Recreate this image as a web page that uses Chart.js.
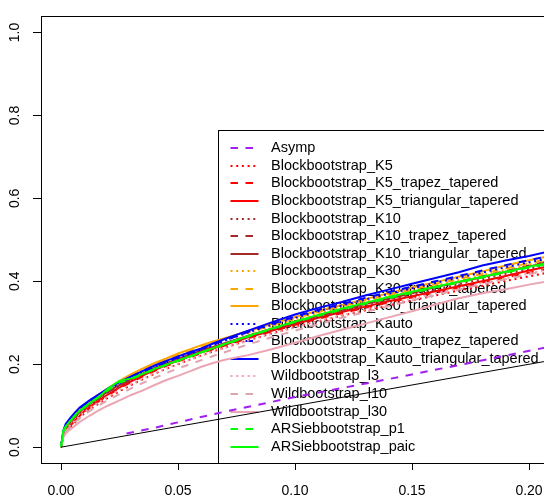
<!DOCTYPE html>
<html>
<head>
<meta charset="utf-8">
<script src="https://cdn.jsdelivr.net/npm/chart.js@4.4.1/dist/chart.umd.min.js"></script>
<style>
  html, body { margin: 0; padding: 0; overflow: hidden; background: #fff; }
  #wrap { width: 580px; height: 500px; }
</style>
</head>
<body>
<div id="wrap"><canvas id="chart" width="580" height="500"></canvas></div>
<script>
//DATA
const xGrid = [0, 0.001, 0.002, 0.004, 0.006, 0.008, 0.01, 0.0125, 0.015, 0.0175, 0.02, 0.025, 0.03, 0.035, 0.04, 0.045, 0.05, 0.055, 0.06, 0.065, 0.07, 0.08, 0.09, 0.1, 0.11, 0.12, 0.13, 0.14, 0.15, 0.16, 0.17, 0.18, 0.19, 0.2, 0.21, 0.22];

const asympX = [0.028, 0.04, 0.067, 0.1, 0.138, 0.17, 0.206, 0.22];
const asympY = [0.033, 0.047, 0.082, 0.121, 0.162, 0.198, 0.239, 0.255];

const k5 = [0, 0.026, 0.035, 0.048, 0.060, 0.071, 0.082, 0.092, 0.101, 0.110, 0.119, 0.135, 0.150, 0.164, 0.177, 0.189, 0.200, 0.211, 0.221, 0.231, 0.240, 0.258, 0.274, 0.290, 0.304, 0.317, 0.330, 0.342, 0.354, 0.366, 0.378, 0.389, 0.401, 0.412, 0.423, 0.434];
const k5Trapez = [0, 0.027, 0.037, 0.050, 0.062, 0.074, 0.085, 0.096, 0.106, 0.116, 0.125, 0.142, 0.157, 0.171, 0.184, 0.196, 0.207, 0.217, 0.227, 0.236, 0.245, 0.263, 0.279, 0.295, 0.310, 0.323, 0.336, 0.349, 0.361, 0.373, 0.385, 0.397, 0.409, 0.421, 0.432, 0.443];
const k5Tri = [0, 0.028, 0.038, 0.052, 0.064, 0.076, 0.087, 0.098, 0.108, 0.118, 0.127, 0.144, 0.159, 0.173, 0.186, 0.198, 0.209, 0.219, 0.229, 0.238, 0.247, 0.265, 0.281, 0.297, 0.312, 0.326, 0.339, 0.352, 0.364, 0.376, 0.388, 0.400, 0.413, 0.426, 0.438, 0.449];
const k10 = [0, 0.032, 0.044, 0.058, 0.071, 0.082, 0.092, 0.102, 0.112, 0.121, 0.130, 0.146, 0.161, 0.174, 0.187, 0.198, 0.209, 0.219, 0.229, 0.238, 0.247, 0.265, 0.282, 0.298, 0.313, 0.327, 0.341, 0.354, 0.367, 0.380, 0.393, 0.405, 0.418, 0.430, 0.442, 0.453];
const k10Trapez = [0, 0.033, 0.045, 0.059, 0.072, 0.084, 0.094, 0.104, 0.114, 0.124, 0.133, 0.149, 0.164, 0.177, 0.190, 0.201, 0.212, 0.222, 0.232, 0.241, 0.250, 0.268, 0.285, 0.302, 0.318, 0.333, 0.347, 0.360, 0.373, 0.386, 0.399, 0.412, 0.425, 0.438, 0.450, 0.461];
const k10Tri = [0, 0.034, 0.046, 0.060, 0.073, 0.085, 0.095, 0.105, 0.115, 0.125, 0.134, 0.150, 0.165, 0.178, 0.191, 0.202, 0.213, 0.223, 0.233, 0.242, 0.251, 0.269, 0.286, 0.302, 0.317, 0.331, 0.345, 0.358, 0.371, 0.386, 0.398, 0.410, 0.423, 0.436, 0.448, 0.459];
const k30 = [0, 0.034, 0.047, 0.062, 0.076, 0.088, 0.097, 0.108, 0.118, 0.127, 0.137, 0.154, 0.170, 0.184, 0.197, 0.208, 0.219, 0.229, 0.239, 0.249, 0.258, 0.275, 0.292, 0.308, 0.323, 0.337, 0.351, 0.364, 0.377, 0.390, 0.403, 0.415, 0.428, 0.441, 0.453, 0.464];
const k30Trapez = [0, 0.035, 0.049, 0.064, 0.078, 0.090, 0.099, 0.110, 0.120, 0.130, 0.140, 0.157, 0.173, 0.187, 0.200, 0.211, 0.222, 0.232, 0.242, 0.251, 0.260, 0.277, 0.294, 0.311, 0.326, 0.340, 0.354, 0.367, 0.380, 0.393, 0.406, 0.418, 0.431, 0.444, 0.456, 0.467];
const k30Tri = [0, 0.036, 0.050, 0.066, 0.080, 0.092, 0.101, 0.112, 0.122, 0.132, 0.142, 0.160, 0.176, 0.190, 0.203, 0.214, 0.226, 0.236, 0.246, 0.255, 0.263, 0.280, 0.297, 0.314, 0.329, 0.343, 0.357, 0.371, 0.385, 0.398, 0.411, 0.424, 0.438, 0.451, 0.462, 0.473];
const kauto = [0, 0.036, 0.050, 0.066, 0.079, 0.091, 0.100, 0.110, 0.119, 0.128, 0.137, 0.154, 0.168, 0.181, 0.194, 0.205, 0.215, 0.225, 0.236, 0.246, 0.257, 0.277, 0.295, 0.312, 0.328, 0.342, 0.356, 0.370, 0.383, 0.396, 0.409, 0.421, 0.434, 0.446, 0.457, 0.468];
const kautoTrapez = [0, 0.038, 0.052, 0.068, 0.081, 0.093, 0.102, 0.112, 0.121, 0.130, 0.139, 0.156, 0.170, 0.182, 0.195, 0.206, 0.217, 0.227, 0.237, 0.248, 0.258, 0.278, 0.297, 0.315, 0.331, 0.345, 0.360, 0.374, 0.387, 0.400, 0.413, 0.426, 0.439, 0.451, 0.463, 0.474];
const kautoTri = [0, 0.040, 0.056, 0.071, 0.084, 0.096, 0.104, 0.114, 0.123, 0.132, 0.141, 0.157, 0.171, 0.184, 0.197, 0.208, 0.219, 0.229, 0.238, 0.250, 0.261, 0.281, 0.301, 0.320, 0.336, 0.350, 0.366, 0.380, 0.394, 0.408, 0.422, 0.438, 0.450, 0.461, 0.474, 0.485];
const wildL3 = [0, 0.030, 0.040, 0.053, 0.064, 0.075, 0.085, 0.095, 0.104, 0.113, 0.122, 0.138, 0.152, 0.165, 0.178, 0.190, 0.201, 0.211, 0.221, 0.230, 0.239, 0.257, 0.273, 0.289, 0.304, 0.318, 0.332, 0.345, 0.358, 0.371, 0.383, 0.395, 0.407, 0.419, 0.431, 0.442];
const wildL10 = [0, 0.028, 0.038, 0.050, 0.060, 0.070, 0.079, 0.088, 0.097, 0.105, 0.113, 0.128, 0.142, 0.155, 0.167, 0.179, 0.190, 0.200, 0.210, 0.220, 0.229, 0.248, 0.265, 0.281, 0.297, 0.312, 0.326, 0.340, 0.354, 0.367, 0.380, 0.393, 0.405, 0.417, 0.428, 0.439];
const wildL30 = [0, 0.025, 0.033, 0.043, 0.052, 0.061, 0.068, 0.077, 0.085, 0.093, 0.100, 0.113, 0.126, 0.137, 0.150, 0.162, 0.172, 0.183, 0.194, 0.203, 0.211, 0.222, 0.236, 0.252, 0.268, 0.283, 0.298, 0.313, 0.328, 0.344, 0.359, 0.371, 0.381, 0.392, 0.402, 0.412];
const arP1 = [0, 0.038, 0.049, 0.063, 0.076, 0.087, 0.096, 0.106, 0.116, 0.126, 0.137, 0.156, 0.164, 0.176, 0.188, 0.198, 0.208, 0.218, 0.228, 0.238, 0.248, 0.267, 0.285, 0.302, 0.317, 0.332, 0.346, 0.359, 0.372, 0.385, 0.397, 0.409, 0.421, 0.433, 0.444, 0.455];
const arPaic = [0, 0.040, 0.050, 0.064, 0.077, 0.088, 0.097, 0.107, 0.117, 0.128, 0.141, 0.160, 0.166, 0.177, 0.189, 0.199, 0.209, 0.219, 0.229, 0.239, 0.249, 0.268, 0.286, 0.303, 0.319, 0.334, 0.348, 0.362, 0.375, 0.387, 0.399, 0.411, 0.423, 0.435, 0.446, 0.457];

// 45 degree reference line
const diagX = [0, 0.25];
const diagY = [0, 0.25];

const xTicks = [0, 0.05, 0.1, 0.15, 0.2];
const xTickLabels = ["0.00", "0.05", "0.10", "0.15", "0.20"];
const yTicks = [0, 0.2, 0.4, 0.6, 0.8, 1.0];
const yTickLabels = ["0.0", "0.2", "0.4", "0.6", "0.8", "1.0"];

const seriesNames = [
  "Asymp",
  "Blockbootstrap_K5", "Blockbootstrap_K5_trapez_tapered", "Blockbootstrap_K5_triangular_tapered",
  "Blockbootstrap_K10", "Blockbootstrap_K10_trapez_tapered", "Blockbootstrap_K10_triangular_tapered",
  "Blockbootstrap_K30", "Blockbootstrap_K30_trapez_tapered", "Blockbootstrap_K30_triangular_tapered",
  "Blockbootstrap_Kauto", "Blockbootstrap_Kauto_trapez_tapered", "Blockbootstrap_Kauto_triangular_tapered",
  "Wildbootstrap_l3", "Wildbootstrap_l10", "Wildbootstrap_l30",
  "ARSiebbootstrap_p1", "ARSiebbootstrap_paic",
];
const seriesValues = [
  null,
  k5, k5Trapez, k5Tri,
  k10, k10Trapez, k10Tri,
  k30, k30Trapez, k30Tri,
  kauto, kautoTrapez, kautoTri,
  wildL3, wildL10, wildL30,
  arP1, arPaic,
];

//STYLES
const DOT = [2, 3.7];
const DASH = [7.5, 7.5];
const SOLID = [];
const seriesColors = [
  "#A020F0",
  "#FF0000", "#FF0000", "#FF0000",
  "#A52A2A", "#A52A2A", "#A52A2A",
  "#FFA500", "#FFA500", "#FFA500",
  "#0000FF", "#0000FF", "#0000FF",
  "#EBA5B3", "#DDA5AE", "#EBA5B3",
  "#00FF00", "#00FF00",
];
const seriesDash = [
  DASH,
  DOT, DASH, SOLID,
  DOT, DASH, SOLID,
  DOT, DASH, SOLID,
  DOT, DASH, SOLID,
  DOT, DASH, SOLID,
  DASH, SOLID,
];

const FAMILY = "'Liberation Sans', Arial, Helvetica, sans-serif";
const FONT = { family: FAMILY, size: 14 };
const LEGEND_SIZE = 14.5;

//DATASETS
let datasets = seriesNames.map((name, i) => {
  let pts;
  if (i == 0) {
    pts = asympX.map((x, j) => ({ x: x, y: asympY[j] }));
  } else {
    pts = xGrid.map((x, j) => ({ x: x, y: seriesValues[i][j] }));
  }
  return {
    label: name,
    data: pts,
    borderColor: seriesColors[i],
    borderWidth: 2,
    borderDash: seriesDash[i],
    pointRadius: 0,
    fill: false,
    order: -i,
  };
});
datasets.push({
  label: "",
  data: diagX.map((x, j) => ({ x: x, y: diagY[j] })),
  borderColor: "#000",
  borderWidth: 1,
  pointRadius: 0,
  fill: false,
  order: -100,
});

//LEGEND (drawn inside the plot, under the lines)
const legendInside = {
  id: "legendInside",
  beforeDatasetsDraw(chart) {
    let ctx = chart.ctx;
    ctx.save();
    ctx.fillStyle = "#fff";
    ctx.fillRect(218.5, 130.5, 400, 333);
    ctx.strokeStyle = "#000";
    ctx.lineWidth = 1;
    ctx.strokeRect(218.5, 130.5, 400, 333);
    ctx.font = LEGEND_SIZE + "px " + FAMILY;
    ctx.textBaseline = "middle";
    ctx.textAlign = "left";
    let rowY = 148.3;
    chart.data.datasets.forEach((ds) => {
      if (!ds.label) return;
      ctx.beginPath();
      ctx.setLineDash(ds.borderDash || []);
      ctx.strokeStyle = ds.borderColor;
      ctx.lineWidth = ds.borderWidth;
      ctx.moveTo(230.5, Math.round(rowY));
      ctx.lineTo(258.5, Math.round(rowY));
      ctx.stroke();
      ctx.setLineDash([]);
      ctx.fillStyle = "#000";
      ctx.fillText(ds.label, 271, rowY);
      rowY += 17.55;
    });
    ctx.restore();
  },
};

//BOX round the plot region
const plotFrame = {
  id: "plotFrame",
  afterDatasetsDraw(chart) {
    let { ctx, chartArea } = chart;
    ctx.save();
    ctx.strokeStyle = "#000";
    ctx.lineWidth = 1;
    ctx.strokeRect(
      Math.round(chartArea.left) + 0.5,
      Math.round(chartArea.top) + 0.5,
      Math.round(chartArea.right - chartArea.left),
      Math.round(chartArea.bottom - chartArea.top)
    );
    ctx.restore();
  },
};

new Chart(document.getElementById("chart"), {
  type: "line",
  data: { datasets: datasets },
  plugins: [legendInside, plotFrame],
  options: {
    responsive: false,
    devicePixelRatio: 1,
    animation: false,
    layout: { padding: { top: 11, right: 17, left: 0, bottom: 0 } },
    plugins: { legend: { display: false }, tooltip: { enabled: false } },
    elements: { line: { tension: 0 } },
    scales: {
      x: {
        type: "linear",
        min: -0.00855,
        max: 0.21453,
        afterBuildTicks: (s) => { s.ticks = xTicks.map((v) => ({ value: v })); },
        afterFit: (s) => { s.height = 37; },
        grid: { drawOnChartArea: false, tickLength: 7, tickColor: "#000", color: "#000" },
        border: { display: false },
        ticks: {
          padding: 13,
          color: "#000",
          font: FONT,
          maxRotation: 0,
          autoSkip: false,
          callback: (v, i) => xTickLabels[i],
        },
      },
      y: {
        type: "linear",
        min: -0.0381,
        max: 1.0388,
        afterBuildTicks: (s) => { s.ticks = yTicks.map((v) => ({ value: v })); },
        afterFit: (s) => { s.width = 41; },
        grid: { drawOnChartArea: false, tickLength: 8, tickColor: "#000", color: "#000" },
        border: { display: false },
        ticks: {
          minRotation: 90,
          maxRotation: 90,
          crossAlign: "center",
          padding: 8,
          color: "#000",
          font: FONT,
          autoSkip: false,
          callback: (v, i) => yTickLabels[i],
        },
      },
    },
  },
});
</script>
</body>
</html>
